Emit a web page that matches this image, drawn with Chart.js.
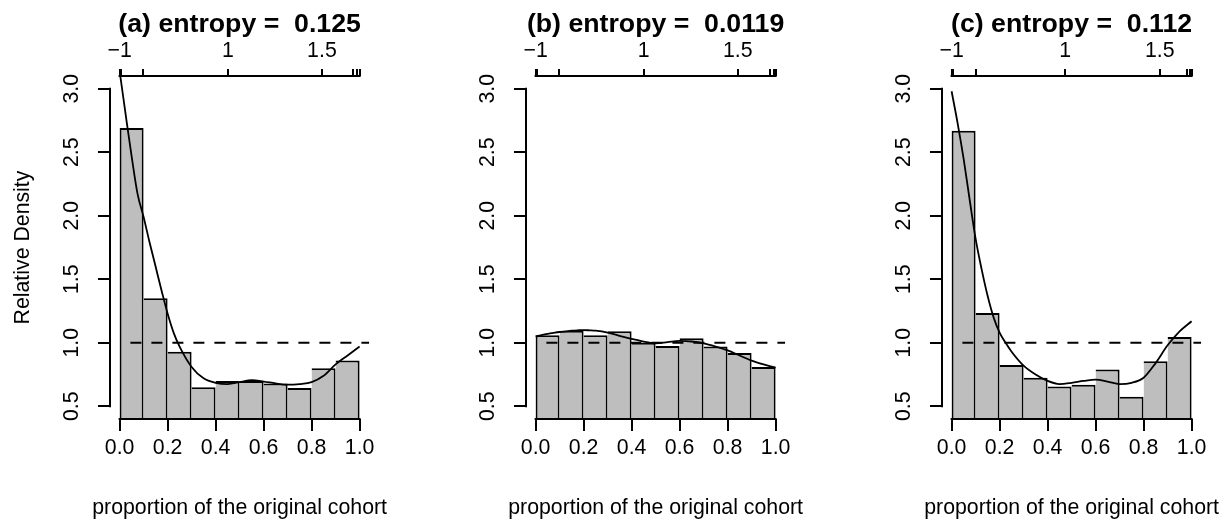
<!DOCTYPE html>
<html>
<head>
<meta charset="utf-8">
<script src="https://cdn.jsdelivr.net/npm/chart.js@4/dist/chart.umd.min.js"></script>
<style>
  html, body { margin: 0; padding: 0; background: #fff; }
  #zone { position: relative; width: 1229px; height: 525px; overflow: hidden; }
  canvas { position: absolute; top: 0; }
</style>
</head>
<body>
<div id="zone">
  <canvas id="panneauA" width="396" height="525" style="left:0px"></canvas>
  <canvas id="panneauB" width="396" height="525" style="left:416px"></canvas>
  <canvas id="panneauC" width="396" height="525" style="left:832px"></canvas>
</div>
<script>
// Données
const binMids = [0.05, 0.15, 0.25, 0.35, 0.45, 0.55, 0.65, 0.75, 0.85, 0.95];
const barsA = [2.69, 1.35, 0.93, 0.65, 0.70, 0.70, 0.68, 0.645, 0.80, 0.86];
const barsB = [1.06, 1.095, 1.06, 1.09, 1.0, 0.975, 1.035, 0.97, 0.92, 0.81];
const barsC = [2.67, 1.235, 0.825, 0.725, 0.655, 0.67, 0.79, 0.575, 0.855, 1.045];

const curveX = [0, 0.025, 0.05, 0.075, 0.1, 0.125, 0.15, 0.175, 0.2, 0.225, 0.25, 0.3, 0.35, 0.4, 0.45, 0.5, 0.55, 0.6, 0.65, 0.7, 0.75, 0.8, 0.85, 0.9, 0.95, 1.0];
const curveA = [3.14, 2.80, 2.47, 2.17, 1.99, 1.79, 1.60, 1.41, 1.23, 1.08, 0.97, 0.81, 0.72, 0.685, 0.675, 0.69, 0.705, 0.695, 0.68, 0.67, 0.675, 0.69, 0.74, 0.83, 0.90, 0.97];
const curveB = [1.05, 1.06, 1.07, 1.078, 1.085, 1.09, 1.095, 1.098, 1.1, 1.098, 1.095, 1.08, 1.055, 1.03, 1.01, 0.995, 1.005, 1.015, 1.01, 0.995, 0.97, 0.94, 0.9, 0.86, 0.83, 0.805];
const curveC = [2.98, 2.73, 2.45, 2.13, 1.82, 1.58, 1.37, 1.20, 1.08, 1.0, 0.93, 0.82, 0.75, 0.70, 0.675, 0.685, 0.70, 0.71, 0.695, 0.675, 0.685, 0.725, 0.84, 0.98, 1.09, 1.17];

const refLineX = [0.045, 1.04];
const refLineY = [1, 1];

const xTicks = [0, 0.2, 0.4, 0.6, 0.8, 1.0];
const yTicks = [0.5, 1.0, 1.5, 2.0, 2.5, 3.0];

const topTicksA = [0, 0.006, 0.097, 0.451, 0.843, 0.973, 0.99, 1];
const topTicksB = [0, 0.006, 0.096, 0.45, 0.842, 0.975, 0.993, 1];
const topTicksC = [0, 0.006, 0.101, 0.473, 0.867, 0.98, 0.995, 1];
const topLabels = ['\u22121', '', '', '1', '1.5', '', '', ''];

const titres = ['(a) entropy =  0.125', '(b) entropy =  0.0119', '(c) entropy =  0.112'];
const xLabel = 'proportion of the original cohort';
const yLabel = 'Relative Density';

const POLICE = "'Liberation Sans', Arial, Helvetica, sans-serif";
const TAILLE = 21.3;

// Traits d'axes façon R (de la première à la dernière graduation seulement)
// + titre de l'axe x (dessiné ici pour ne pas être comprimé à la largeur de l'axe)
const traitsAxes = {
  id: 'traitsAxes',
  afterDraw(chart) {
    const { ctx, chartArea, scales } = chart;
    const x0 = scales.x.getPixelForValue(xTicks[0]);
    const x1 = scales.x.getPixelForValue(xTicks[xTicks.length - 1]);
    const y0 = scales.y.getPixelForValue(yTicks[0]);
    const y1 = scales.y.getPixelForValue(yTicks[yTicks.length - 1]);
    ctx.save();
    ctx.strokeStyle = '#000';
    ctx.lineWidth = 2;
    ctx.beginPath();
    ctx.moveTo(x0 - 1, chartArea.bottom);
    ctx.lineTo(x1 + 1, chartArea.bottom);
    ctx.moveTo(x0 - 1, chartArea.top);
    ctx.lineTo(x1 + 1, chartArea.top);
    ctx.moveTo(chartArea.left, y0 + 1);
    ctx.lineTo(chartArea.left, y1 - 1);
    ctx.stroke();

    ctx.fillStyle = '#000';
    ctx.font = TAILLE + 'px ' + POLICE;
    ctx.textAlign = 'center';
    ctx.textBaseline = 'middle';
    ctx.fillText(xLabel, (chartArea.left + chartArea.right) / 2, chartArea.bottom + 89);
    ctx.restore();
  }
};

function grilleTicks(longueur) {
  return { display: true, drawOnChartArea: false, drawTicks: true, tickLength: longueur,
           tickWidth: 2, lineWidth: 2, tickColor: '#000', color: '#000', offset: false };
}

// Fonction pour créer un panneau
function creerPanneau(id, titre, barres, courbe, ticksHaut, avecTitreY) {
  const ctx = document.getElementById(id).getContext('2d');
  return new Chart(ctx, {
    type: 'bar',
    data: {
      datasets: [
        {
          type: 'line',
          data: curveX.map((x, i) => ({ x: x, y: courbe[i] })),
          borderColor: '#000',
          borderWidth: 1.8,
          pointRadius: 0,
          cubicInterpolationMode: 'monotone',
          order: 1
        },
        {
          type: 'line',
          data: refLineX.map((x, i) => ({ x: x, y: refLineY[i] })),
          borderColor: '#000',
          borderWidth: 2,
          borderDash: [11, 10],
          pointRadius: 0,
          order: 2
        },
        {
          type: 'bar',
          data: binMids.map((x, i) => ({ x: x, y: barres[i] })),
          backgroundColor: '#bebebe',
          borderColor: '#000',
          borderWidth: 2,
          borderSkipped: c => c.dataIndex === 0 ? 'bottom' : 'left',
          barPercentage: 1,
          categoryPercentage: 1,
          inflateAmount: 0,
          order: 3
        }
      ]
    },
    options: {
      responsive: false,
      animation: false,
      events: [],
      layout: { padding: { left: 0, right: 396 - 369.2, top: 0, bottom: 0 } },
      plugins: {
        legend: { display: false },
        tooltip: { enabled: false },
        title: {
          display: true,
          text: titre,
          fullSize: false,
          color: '#000',
          font: { family: POLICE, size: 26.7, weight: 'bold', lineHeight: 1.2 },
          padding: { top: 9, bottom: 0 }
        }
      },
      scales: {
        x: {
          type: 'linear', position: 'bottom', min: -0.04, max: 1.04, offset: false,
          afterBuildTicks: s => { s.ticks = xTicks.map(v => ({ value: v })); },
          afterFit: s => { s.height = 106; },
          grid: grilleTicks(12),
          border: { display: false },
          ticks: { autoSkip: false, maxRotation: 0, color: '#000', padding: 4.5,
                   font: { family: POLICE, size: TAILLE }, callback: v => v.toFixed(1) }
        },
        xHaut: {
          type: 'linear', position: 'top', min: -0.04, max: 1.04, offset: false,
          afterBuildTicks: s => { s.ticks = ticksHaut.map(v => ({ value: v })); },
          afterFit: s => { s.height = 76 - 41; },
          grid: grilleTicks(7),
          border: { display: false },
          ticks: { autoSkip: false, maxRotation: 0, color: '#000', padding: 5.5,
                   font: { family: POLICE, size: TAILLE }, callback: (v, i) => topLabels[i] }
        },
        y: {
          type: 'linear', position: 'left', min: 0.4, max: 3.1,
          afterBuildTicks: s => { s.ticks = yTicks.map(v => ({ value: v })); },
          afterFit: s => { s.width = 110; },
          grid: grilleTicks(12),
          border: { display: false },
          ticks: { autoSkip: false, minRotation: 90, maxRotation: 90, crossAlign: 'center',
                   padding: 10.7, color: '#000', font: { family: POLICE, size: TAILLE },
                   callback: v => v.toFixed(1) },
          title: { display: avecTitreY, text: yLabel, color: '#000',
                   font: { family: POLICE, size: TAILLE }, padding: { top: 10.2, bottom: 0 } }
        }
      }
    },
    plugins: [traitsAxes]
  });
}

creerPanneau('panneauA', titres[0], barsA, curveA, topTicksA, true);
creerPanneau('panneauB', titres[1], barsB, curveB, topTicksB, false);
creerPanneau('panneauC', titres[2], barsC, curveC, topTicksC, false);
</script>
</body>
</html>
